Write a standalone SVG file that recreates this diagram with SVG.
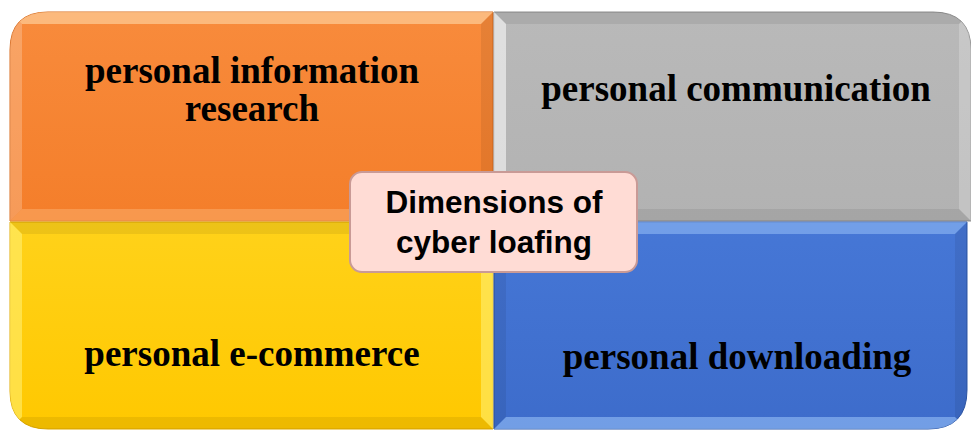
<svg xmlns="http://www.w3.org/2000/svg" width="971" height="430" viewBox="0 0 971 430">
<style>
.lbl{font-family:"Liberation Serif","Times New Roman",serif;font-weight:bold;font-size:37px;fill:#000;text-anchor:middle}
.ctr{font-family:"Liberation Sans",Arial,sans-serif;font-weight:bold;font-size:31.5px;fill:#000;text-anchor:middle}
.hl{fill:#fff;opacity:0.22}
.sh{fill:#000;opacity:0.07}
</style>
<defs>
<linearGradient id="gO" x1="0" y1="0" x2="0" y2="1"><stop offset="0" stop-color="#F88B3C"/><stop offset="1" stop-color="#F47E2A"/></linearGradient>
<linearGradient id="gG" x1="0" y1="0" x2="0" y2="1"><stop offset="0" stop-color="#B9B9B9"/><stop offset="1" stop-color="#B2B2B2"/></linearGradient>
<linearGradient id="gY" x1="0" y1="0" x2="0" y2="1"><stop offset="0" stop-color="#FFD21A"/><stop offset="1" stop-color="#FFC800"/></linearGradient>
<linearGradient id="gB" x1="0" y1="0" x2="0" y2="1"><stop offset="0" stop-color="#4677D6"/><stop offset="1" stop-color="#3D6CCB"/></linearGradient>
<clipPath id="cO"><path d="M10,221 V50 Q10,12 48,12 H493 V221 Z"/></clipPath>
<clipPath id="cG"><path d="M494,12 H933 Q971,12 971,50 V221 H494 Z"/></clipPath>
<clipPath id="cY"><path d="M10,222 H493 V429 H48 Q10,429 10,391 Z"/></clipPath>
<clipPath id="cB"><path d="M494,222 H967 V390 Q967,429 928,429 H494 Z"/></clipPath>
</defs>
<g id="orange">
<path d="M10,221 V50 Q10,12 48,12 H493 V221 Z" fill="url(#gO)" stroke="#D86A1C" stroke-width="1"/>
<g clip-path="url(#cO)">
<polygon points="10,12 493,12 481,24 22,24" fill="#FFD9A8" opacity="0.6"/>
<polygon points="10,12 22,24 22,209 10,221" class="hl"/>
<polygon points="493,12 481,24 481,209 493,221" class="sh"/>
<polygon points="10,221 22,209 481,209 493,221" fill="#FFC98E" opacity="0.35"/>
</g>
<text class="lbl" x="252" y="83">personal information</text>
<text class="lbl" x="252" y="121">research</text>
</g>
<g id="grey">
<path d="M494,12 H933 Q971,12 971,50 V221 H494 Z" fill="url(#gG)" stroke="#8E8E8E" stroke-width="1"/>
<g clip-path="url(#cG)">
<polygon points="494,12 971,12 959,24 506,24" class="sh"/>
<polygon points="494,12 506,24 506,209 494,221" fill="#FFFFFF" opacity="0.55"/>
<polygon points="971,12 959,24 959,209 971,221" class="hl"/>
<polygon points="494,221 506,209 959,209 971,221" class="sh"/>
</g>
<text class="lbl" x="736" y="101">personal communication</text>
</g>
<g id="yellow">
<path d="M10,222 H493 V429 H48 Q10,429 10,391 Z" fill="url(#gY)" stroke="#E0AA00" stroke-width="1"/>
<g clip-path="url(#cY)">
<polygon points="10,222 493,222 481,234 22,234" class="sh"/>
<polygon points="10,222 22,234 22,417 10,429" fill="#FFF27A" opacity="0.55"/>
<polygon points="493,222 481,234 481,417 493,429" fill="#FFF27A" opacity="0.55"/>
<polygon points="10,429 22,417 481,417 493,429" class="sh"/>
</g>
<text class="lbl" x="252" y="366">personal e-commerce</text>
</g>
<g id="blue">
<path d="M494,222 H967 V390 Q967,429 928,429 H494 Z" fill="url(#gB)" stroke="#2F58A8" stroke-width="1"/>
<g clip-path="url(#cB)">
<polygon points="494,222 967,222 955,234 506,234" fill="#A8D0FF" opacity="0.45"/>
<polygon points="494,222 506,234 506,417 494,429" class="sh"/>
<polygon points="967,222 955,234 955,417 967,429" class="sh"/>
<polygon points="494,429 506,417 955,417 967,429" fill="#A8D0FF" opacity="0.5"/>
</g>
<text class="lbl" x="737" y="369">personal downloading</text>
</g>
<g id="center">
<rect x="350" y="172" width="287" height="100" rx="12" ry="12" fill="#FFDCD5" stroke="#C99A96" stroke-width="2"/>
<text class="ctr" x="494" y="213">Dimensions of</text>
<text class="ctr" x="494" y="253">cyber loafing</text>
</g>
</svg>
